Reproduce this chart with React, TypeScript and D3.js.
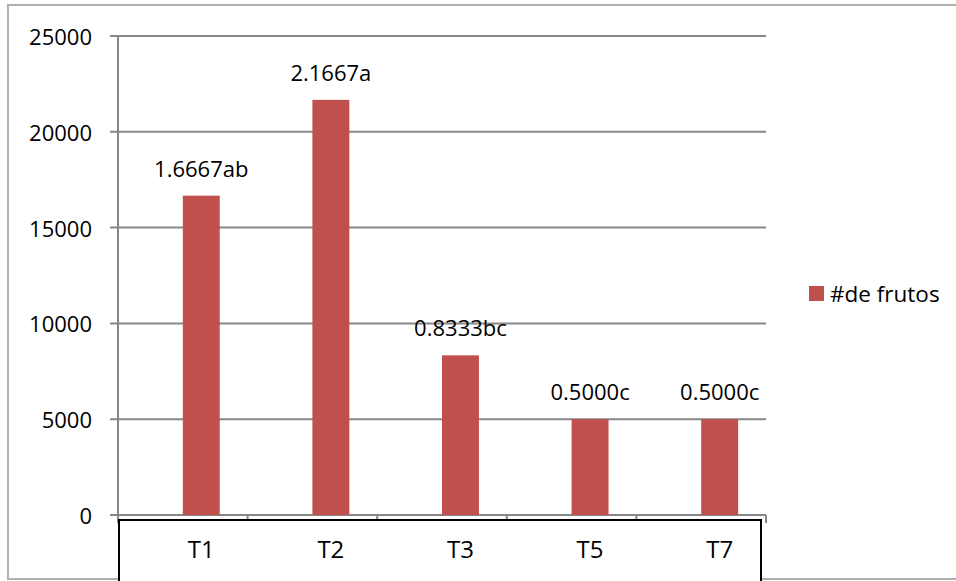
import React from "react";
import * as d3 from "d3";

const categories = ["T1", "T2", "T3", "T5", "T7"];
const values = [16667, 21667, 8333, 5000, 5000];
const dataLabels = ["1.6667ab", "2.1667a", "0.8333bc", "0.5000c", "0.5000c"];
const yTicks = [0, 5000, 10000, 15000, 20000, 25000];
const seriesName = "#de frutos";

const W = 956;
const H = 581;
const FONT = "'Open Sans', 'Liberation Sans', Arial, sans-serif";

export default function App() {
  const plotLeft = 118;
  const plotRight = 766;
  const plotTop = 36;
  const plotBottom = 515;

  const x = d3.scaleBand<string>().domain(categories).range([plotLeft, plotRight]).padding(0);
  const y = d3.scaleLinear().domain([0, 25000]).range([plotBottom, plotTop]);
  const bw = x.bandwidth();
  const barW = bw * 0.285;
  const bounds = d3.range(categories.length + 1).map((i) => plotLeft + i * bw);

  return (
    <svg
      width={W}
      height={H}
      style={{ position: "absolute", left: 0, top: 0, background: "#fff" }}
      fontFamily={FONT}
    >
      <rect x={0} y={0} width={W} height={H} fill="#fff" />
      {/* outer chart border */}
      <rect x={8} y={5} width={W + 10} height={574} fill="none" stroke="#b0b0b0" strokeWidth={2} />

      {/* gridlines and y ticks */}
      {yTicks.map((t) => (
        <g key={t}>
          <line x1={110} x2={plotRight} y1={y(t)} y2={y(t)} stroke="#878787" strokeWidth={2} />
          <text
            x={92}
            y={y(t)}
            textAnchor="end"
            dominantBaseline="central"
            fontSize={22}
            fill="#000"
          >
            {t}
          </text>
        </g>
      ))}
      {/* y axis */}
      <line x1={plotLeft} x2={plotLeft} y1={plotTop} y2={plotBottom} stroke="#878787" strokeWidth={2} />
      {/* x category ticks */}
      {bounds.map((b, i) => (
        <line key={i} x1={b} x2={b} y1={plotBottom} y2={plotBottom + 8} stroke="#878787" strokeWidth={2} />
      ))}

      {/* bars */}
      {categories.map((c, i) => {
        const x0 = (x(c) as number) + bw / 2;
        return (
          <g key={c}>
            <rect
              x={x0}
              y={y(values[i])}
              width={barW}
              height={plotBottom - y(values[i])}
              fill="#C0504D"
            />
            <text
              x={x0 + barW / 2}
              y={y(values[i]) - 19}
              textAnchor="middle"
              fontSize={22}
              fill="#000"
            >
              {dataLabels[i]}
            </text>
          </g>
        );
      })}

      {/* category label box */}
      <rect x={plotLeft + 1} y={520} width={642} height={80} fill="#fff" stroke="#000" strokeWidth={2} />
      {categories.map((c) => {
        const cx = (x(c) as number) + bw / 2 + barW / 2;
        return (
          <text key={c} x={cx} y={558} textAnchor="middle" fontSize={24} fill="#000">
            {c}
          </text>
        );
      })}

      {/* legend */}
      <rect x={809} y={286} width={15} height={15} fill="#C0504D" />
      <text x={830} y={293.5} dominantBaseline="central" fontSize={22.5} fill="#000">
        {seriesName}
      </text>
    </svg>
  );
}
